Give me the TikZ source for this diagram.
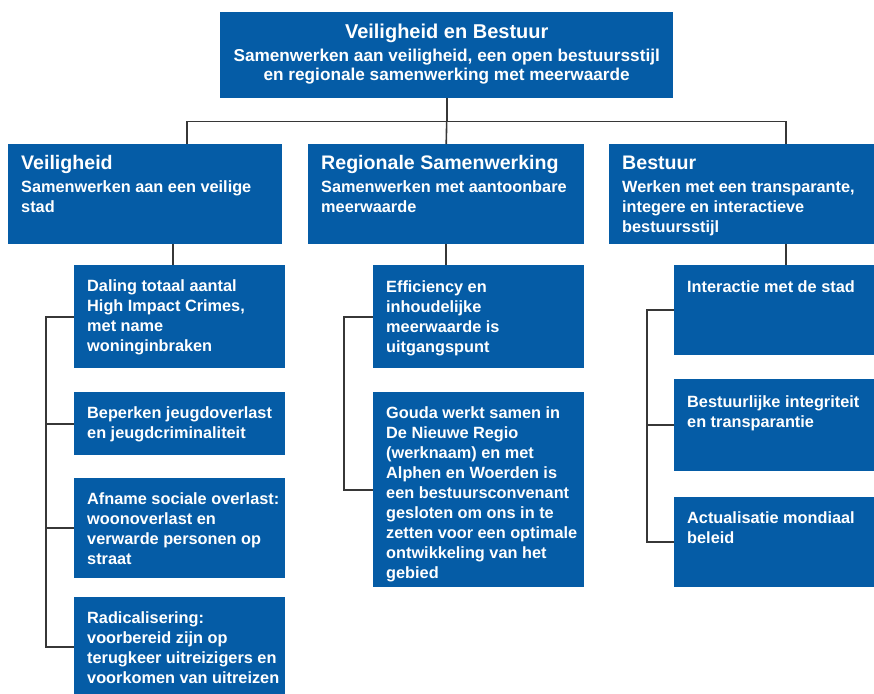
\documentclass[tikz,border=0pt]{standalone}
\usepackage{fontspec}
\setmainfont{Liberation Sans}
\usepackage{xcolor}

\definecolor{gdblauw}{RGB}{5,92,166}
\definecolor{lijngrijs}{RGB}{55,55,55}

\newcommand{\titelfont}{\fontsize{20}{24}\selectfont\bfseries}
\newcommand{\kopfont}{\fontsize{19.6}{22}\selectfont\bfseries}
\newcommand{\subfont}{\fontsize{16.3}{20}\selectfont\bfseries}
% width, height, baseline of first line, text
\newcommand{\vak}[4]{\parbox[t][#2pt][t]{#1pt}{\raggedright\leftskip=13pt\relax\rule{0pt}{#3pt}#4}}

\tikzset{
  blok/.style={fill=gdblauw, text=white, anchor=north west, inner sep=0pt, font=\subfont},
  verbinding/.style={draw=lijngrijs, line width=1.6pt}
}

\begin{document}
\begin{tikzpicture}[x=1pt,y=-1pt]
  \useasboundingbox (0,0) rectangle (874,693);
  \clip (0,0) rectangle (874,693);

  % top
  \node (top) [blok] at (220,12) {\parbox[t][86pt][t]{453pt}{\centering\fontsize{17.2}{19.5}\selectfont\bfseries
    \rule{0pt}{26pt}{\titelfont Veiligheid en Bestuur}\\[3.5pt]
    Samenwerken aan veiligheid, een open bestuursstijl\\
    en regionale samenwerking met meerwaarde}};

  % pijlers
  \node (vei) [blok] at (8,144) {\vak{274}{100}{25}{{\kopfont Veiligheid}\\[3pt]
    Samenwerken aan een veilige\\stad}};
  \node (reg) [blok] at (308,144) {\vak{276}{100}{25}{{\kopfont Regionale Samenwerking}\\[3pt]
    Samenwerken met aantoonbare\\meerwaarde}};
  \node (bes) [blok] at (609,144) {\vak{275}{100}{25}{{\kopfont Bestuur}\\[3pt]
    Werken met een transparante,\\integere en interactieve\\bestuursstijl}};

  % doelen veiligheid
  \node (d1) [blok] at (74,265) {\vak{211}{103}{26}{Daling totaal aantal\\High Impact Crimes,\\met name\\woninginbraken}};
  \node (d2) [blok] at (74,392) {\vak{211}{63}{26}{Beperken jeugdoverlast\\en jeugdcriminaliteit}};
  \node (d3) [blok] at (74,478) {\vak{211}{100}{26}{Afname sociale overlast:\\woonoverlast en\\verwarde personen op\\straat}};
  \node (d4) [blok] at (74,597) {\vak{211}{100}{26}{Radicalisering:\\voorbereid zijn op\\terugkeer uitreizigers en\\voorkomen van uitreizen}};

  % doelen regionale samenwerking
  \node (e1) [blok] at (373,265) {\vak{211}{103}{27}{Efficiency en\\inhoudelijke\\meerwaarde is\\uitgangspunt}};
  \node (e2) [blok] at (373,392) {\vak{211}{195}{26}{Gouda werkt samen in\\De Nieuwe Regio\\(werknaam) en met\\Alphen en Woerden is\\een bestuursconvenant\\gesloten om ons in te\\zetten voor een optimale\\ontwikkeling van het\\gebied}};

  % doelen bestuur
  \node (i1) [blok] at (674,265) {\vak{215}{90}{27}{Interactie met de stad}};
  \node (i2) [blok] at (674,379) {\vak{215}{92}{28}{Bestuurlijke integriteit\\en transparantie}};
  \node (i3) [blok] at (674,497) {\vak{215}{90}{26}{Actualisatie mondiaal\\beleid}};

  % lijnen boven
  \draw[verbinding] (top.south) -- ++(0,23) coordinate (hub);
  \path (vei.north west) +(179,0) coordinate (veii);
  \path (bes.north west) +(177,0) coordinate (besi);
  \draw[verbinding] (veii) |- (hub) -| (besi);
  \draw[verbinding] (hub) -- (reg.north);

  % lijnen naar de doelen
  \path (vei.south west) +(165,0) coordinate (veio);
  \path (bes.south west) +(177,0) coordinate (beso);
  \draw[verbinding] (veio) -- (veio |- d1.north);
  \draw[verbinding] (reg.south) -- (reg.south |- e1.north);
  \draw[verbinding] (beso) -- (beso |- i1.north);

  % haken
  \draw[verbinding] (d1.west) -- ++(-28,0) |- (d4.west);
  \foreach \n in {d2,d3}
    \draw[verbinding] (\n.west) -- ++(-28,0);
  \draw[verbinding] (e1.west) -- ++(-29,0) |- (e2.west);
  \draw[verbinding] (i1.west) -- ++(-27,0) |- (i3.west);
  \draw[verbinding] (i2.west) -- ++(-27,0);
\end{tikzpicture}
\end{document}
